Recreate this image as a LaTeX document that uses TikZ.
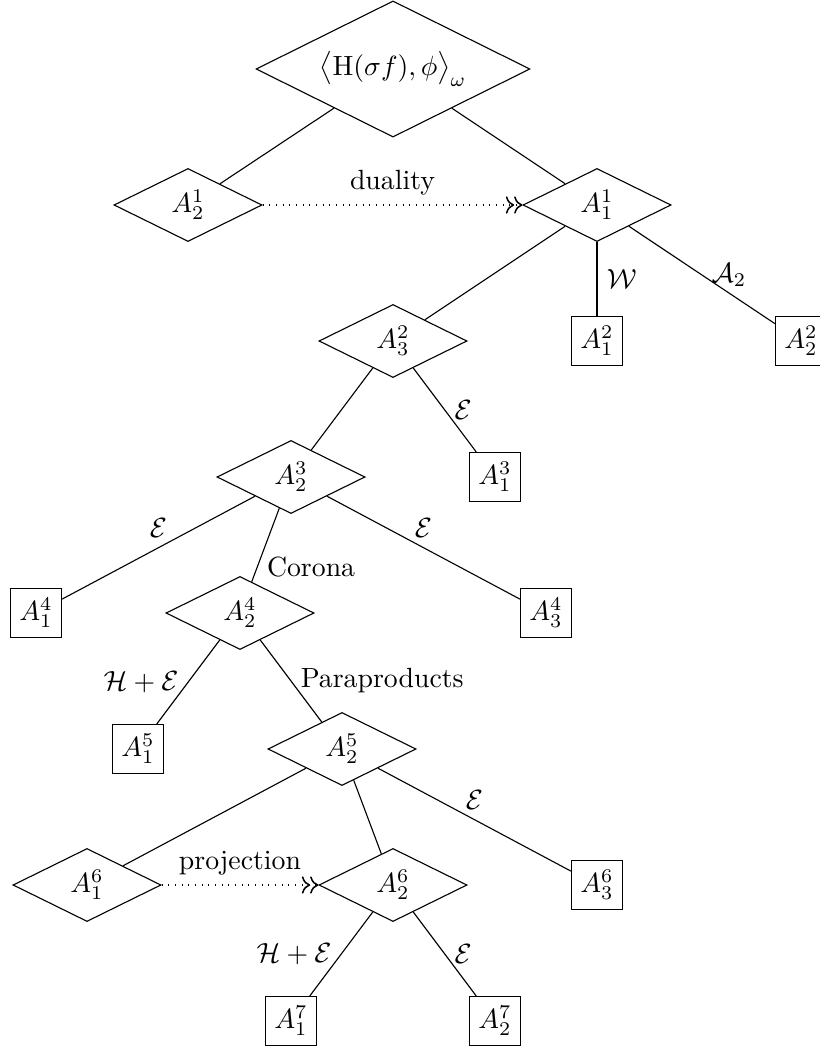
\documentclass[tikz,border=0pt]{standalone}
\usetikzlibrary{shapes.geometric,arrows.meta}
\begin{document}
\begin{tikzpicture}[x=0.36pt,y=-0.36pt,
  dia/.style={draw,diamond,aspect=2,inner sep=0pt,minimum width=53.3pt,minimum height=26.3pt},
  topdia/.style={dia,minimum width=98.6pt,minimum height=49pt},
  box/.style={draw,rectangle,inner sep=0pt,minimum width=18.4pt,minimum height=17.6pt},
  dual/.style={dotted,-{To[scale=1.2,line width=0.55pt]To[scale=1.2,line width=0.55pt]}}]
\useasboundingbox (0,0) rectangle (819,1049);
% nodes
\node[topdia] (T) at (393,69) {$\big\langle \mathrm{H}(\sigma f),\phi\big\rangle_\omega$};
\node[dia] (A21) at (188,205) {$A_2^1$};
\node[dia] (A11) at (597,205) {$A_1^1$};
\node[dia] (A32) at (393,341) {$A_3^2$};
\node[box] (A12) at (597,341) {$A_1^2$};
\node[box] (A22) at (801,341) {$A_2^2$};
\node[dia] (A23) at (291,477) {$A_2^3$};
\node[box] (A13) at (495,477) {$A_1^3$};
\node[box] (A14) at (36,613) {$A_1^4$};
\node[dia] (A24) at (240,613) {$A_2^4$};
\node[box] (A34) at (546,613) {$A_3^4$};
\node[box] (A15) at (138,749) {$A_1^5$};
\node[dia] (A25) at (342,749) {$A_2^5$};
\node[dia] (A16) at (87,885) {$A_1^6$};
\node[dia] (A26) at (393,885) {$A_2^6$};
\node[box] (A36) at (597,885) {$A_3^6$};
\node[box] (A17) at (291,1021) {$A_1^7$};
\node[box] (A27) at (495,1021) {$A_2^7$};
% connectors
\draw (T) -- (A21);
\draw (T) -- (A11);
\draw[dual] (A21) -- node[above] (ldual) {duality} (A11);
\draw (A11) -- (A32);
\draw (A11) -- node[right] (lW) {$\mathcal{W}$} (A12);
\draw (A11) -- node[right] (lA) {$\mathcal{A}_2$} (A22);
\draw (A32) -- (A23);
\draw (A32) -- node[right] (lE1) {$\mathcal{E}$} (A13);
\draw (A23) -- node[above] (lE2) {$\mathcal{E}$} (A14);
\draw (A23) -- node[pos=.8,right] (lC) {Corona} (A24);
\draw (A23) -- node[above] (lE3) {$\mathcal{E}$} (A34);
\draw (A24) -- node[left] (lHE1) {$\mathcal{H}+\mathcal{E}$} (A15);
\draw (A24) -- node[right] (lP) {Paraproducts} (A25);
\draw (A25) -- (A16);
\draw (A25) -- (A26);
\draw (A25) -- node[above] (lE4) {$\mathcal{E}$} (A36);
\draw[dual] (A16) -- node[above] (lproj) {projection} (A26);
\draw (A26) -- node[left] (lHE2) {$\mathcal{H}+\mathcal{E}$} (A17);
\draw (A26) -- node[right] (lE5) {$\mathcal{E}$} (A27);
\end{tikzpicture}
\end{document}
